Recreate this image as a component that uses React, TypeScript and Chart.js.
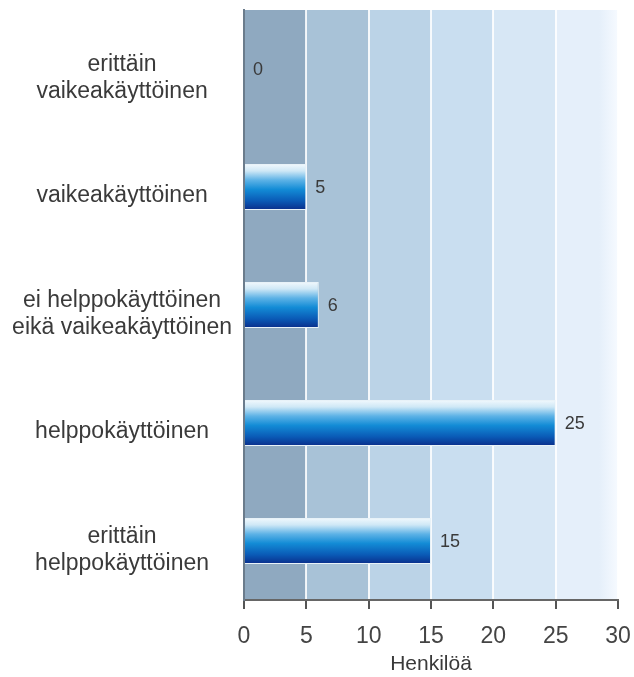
import React, { useEffect, useRef } from "react";
import { Chart, registerables } from "chart.js";

Chart.register(...registerables);

const categories: (string | string[])[] = [
  ["erittäin", "vaikeakäyttöinen"],
  "vaikeakäyttöinen",
  ["ei helppokäyttöinen", "eikä vaikeakäyttöinen"],
  "helppokäyttöinen",
  ["erittäin", "helppokäyttöinen"],
];
const values: number[] = [0, 5, 6, 25, 15];
const xTicks: number[] = [0, 5, 10, 15, 20, 25, 30];
const axisTitle = "Henkilöä";
const bandColors: string[] = ["#8fa9c0", "#a8c2d7", "#bbd3e7", "#c9def0", "#d7e7f5", "#e5effa"];

const FONT = "'Liberation Sans', Arial, Helvetica, sans-serif";
const BAR_FRACTION = 0.39;

const bandsPlugin = {
  id: "bands",
  beforeDraw(chart: any) {
    const { ctx, chartArea, scales } = chart;
    const x = scales.x;
    ctx.save();
    for (let i = 0; i < xTicks.length - 1; i++) {
      const x0 = x.getPixelForValue(xTicks[i]);
      const x1 = x.getPixelForValue(xTicks[i + 1]);
      if (i === xTicks.length - 2) {
        const g = ctx.createLinearGradient(x0, 0, x1, 0);
        g.addColorStop(0, bandColors[i]);
        g.addColorStop(0.7, bandColors[i]);
        g.addColorStop(1, "#f6faff");
        ctx.fillStyle = g;
      } else {
        ctx.fillStyle = bandColors[i];
      }
      ctx.fillRect(x0, chartArea.top, x1 - x0, chartArea.bottom - chartArea.top);
    }
    ctx.restore();
  },
};

const valueLabelPlugin = {
  id: "valueLabels",
  afterDatasetsDraw(chart: any) {
    const { ctx } = chart;
    const meta = chart.getDatasetMeta(0);
    ctx.save();
    ctx.font = `18px ${FONT}`;
    ctx.fillStyle = "#3a3a3a";
    ctx.textAlign = "left";
    ctx.textBaseline = "middle";
    meta.data.forEach((bar: any, i: number) => {
      ctx.fillText(String(values[i]), bar.x + 9, bar.y + 1);
    });
    ctx.restore();
  },
};

export default function App() {
  const ref = useRef<HTMLCanvasElement | null>(null);
  useEffect(() => {
    if (!ref.current) return;
    const chart = new Chart(ref.current, {
      type: "bar",
      data: {
        labels: categories,
        datasets: [
          {
            data: values,
            backgroundColor: (c: any) => {
              const chartObj = c.chart;
              const yScale = chartObj.scales && chartObj.scales.y;
              const area = chartObj.chartArea;
              if (!yScale || !area || c.dataIndex === undefined) return "#1a8fd8";
              const cy = yScale.getPixelForValue(c.dataIndex);
              const h = ((area.bottom - area.top) / categories.length) * BAR_FRACTION;
              const top = cy - h / 2;
              const bot = cy + h / 2;
              const g = chartObj.ctx.createLinearGradient(0, top, 0, bot);
              g.addColorStop(0, "#f2f9fd");
              g.addColorStop(0.15, "#cfe8f6");
              g.addColorStop(0.35, "#5db2e6");
              g.addColorStop(0.55, "#138cd6");
              g.addColorStop(0.8, "#0a5ab6");
              g.addColorStop(1, "#0a2d8a");
              return g;
            },
            borderColor: "#e8f2f8",
            borderWidth: 1,
            borderSkipped: "left",
            barPercentage: BAR_FRACTION,
            categoryPercentage: 1,
          },
        ],
      },
      options: {
        indexAxis: "y",
        animation: false,
        responsive: true,
        maintainAspectRatio: false,
        layout: { padding: { left: 0, right: 16, top: 10, bottom: 0 } },
        plugins: {
          legend: { display: false },
          tooltip: { enabled: false },
        },
        scales: {
          x: {
            type: "linear",
            min: 0,
            max: 30,
            afterBuildTicks: (s: any) => {
              s.ticks = xTicks.map((v) => ({ value: v }));
            },
            afterFit: (s: any) => {
              s.height = 77;
              s.paddingLeft = 0;
              s.paddingRight = 0;
            },
            grid: {
              color: "rgba(255,255,255,0.85)",
              lineWidth: 2,
              tickColor: "#555",
              tickLength: 9,
              drawOnChartArea: true,
            },
            border: { display: true, color: "#666", width: 2 },
            ticks: {
              color: "#444",
              font: { family: FONT, size: 23 },
              padding: 14,
            },
            title: {
              display: true,
              text: axisTitle,
              color: "#3a3a3a",
              font: { family: FONT, size: 21, lineHeight: 1 },
              padding: { top: 0, bottom: 2 },
            },
          },
          y: {
            afterFit: (s: any) => {
              s.width = 244;
              s.paddingTop = 0;
              s.paddingBottom = 0;
            },
            grid: { display: false, drawTicks: false },
            border: { display: true, color: "#6b7c8c", width: 2 },
            ticks: {
              color: "#3a3a3a",
              font: { family: FONT, size: 23 },
              crossAlign: "center",
              padding: 12,
              labelOffset: 9,
            },
          },
        },
      },
      plugins: [bandsPlugin, valueLabelPlugin],
    } as any);
    return () => chart.destroy();
  }, []);
  return (
    <div style={{ position: "absolute", left: 0, top: 0, width: 634, height: 677 }}>
      <canvas ref={ref} />
    </div>
  );
}
